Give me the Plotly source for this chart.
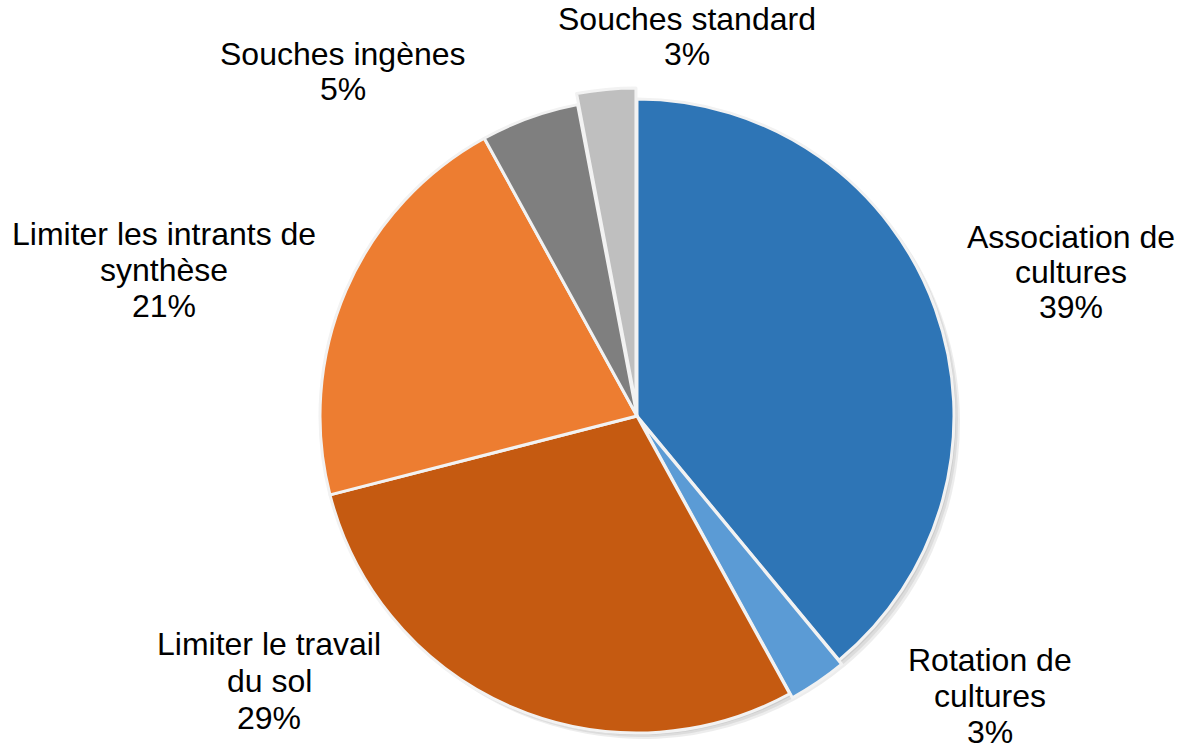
import plotly.graph_objects as go

# Share of each practice (percent), clockwise from 12 o'clock
categories = [
    "Association de cultures",
    "Rotation de cultures",
    "Limiter le travail du sol",
    "Limiter les intrants de synthèse",
    "Souches ingènes",
    "Souches standard",
]
values = [39, 3, 29, 21, 5, 3]
label_lines = [
    ["Association de", "cultures"],
    ["Rotation de", "cultures"],
    ["Limiter le travail", "du sol"],
    ["Limiter les intrants de", "synthèse"],
    ["Souches ingènes"],
    ["Souches standard"],
]
colors = ["#2E75B6", "#5B9BD5", "#C55A11", "#ED7D31", "#7F7F7F", "#BFBFBF"]
pulls = [0, 0.015, 0, 0, 0, 0.035]

W, H = 1180, 749
cx, cy, r = 637, 416, 317          # pie centre and radius in pixels


def domain(px, py, half):
    return dict(
        x=[max(0, (px - half) / W), min(1, (px + half) / W)],
        y=[max(0, (H - py - half) / H), min(1, (H - py + half) / H)],
    )


# label anchor (pixel x, first-line centre y, line step)
label_pos = [
    (1071, 237, 35),
    (990, 660, 36),
    (269, 644, 37),
    (164, 234, 36),
    (343, 54, 35),
    (687, 19, 35),
]

fig = go.Figure()

# soft drop shadow: stacked translucent grey discs offset down-right
for off in [6, 4, 2]:
    fig.add_trace(go.Pie(
        values=values, sort=False, direction="clockwise",
        marker=dict(colors=["rgba(0,0,0,0.07)"] * len(values), line=dict(width=0)),
        textinfo="none", hoverinfo="skip", showlegend=False,
        domain=domain(cx + off, cy + off, r),
    ))

fig.add_trace(go.Pie(
    labels=categories, values=values, sort=False, direction="clockwise",
    pull=pulls,
    marker=dict(colors=colors, line=dict(color="#F2F2F2", width=3)),
    textinfo="none", showlegend=False,
    domain=domain(cx, cy, r * (1 + max(pulls))),
))

annotations = []
for lines, v, (px, py, step) in zip(label_lines, values, label_pos):
    for i, t in enumerate(lines + [f"{v}%"]):
        annotations.append(dict(
            x=px / W, y=1 - (py + i * step) / H, xref="paper", yref="paper",
            text=t, showarrow=False, xanchor="center", yanchor="middle",
            font=dict(family="Liberation Sans, Arial, sans-serif", size=32, color="#000000"),
        ))

fig.update_layout(
    width=W, height=H,
    margin=dict(l=0, r=0, t=0, b=0),
    paper_bgcolor="white", plot_bgcolor="white",
    annotations=annotations,
)

fig.write_html("out.html")
